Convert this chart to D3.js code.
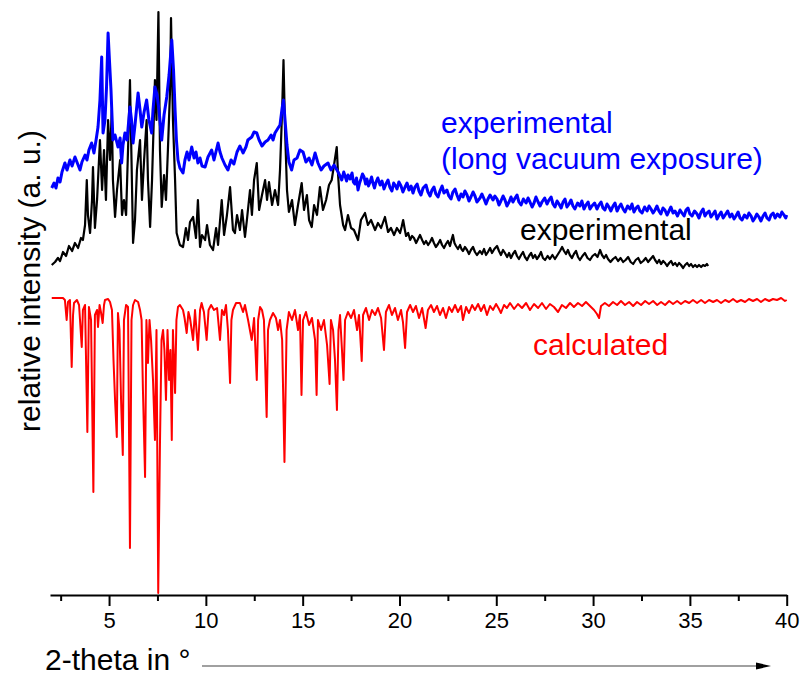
<!DOCTYPE html>
<html>
<head>
<meta charset="utf-8">
<script src="https://cdn.jsdelivr.net/npm/d3@7"></script>
<style>
  body { margin: 0; background: #fff; }
  svg { display: block; font-family: "Liberation Sans", Arial, sans-serif; }
</style>
</head>
<body>
<svg id="chart" width="803" height="677"></svg>
<script>
// --- DATA: [2-theta (deg), relative intensity (a.u.)] ---
const expVacuum = [
  [2.04,407],[2.16,412],[2.26,407],[2.36,417],[2.47,413],[2.57,423],[2.72,432],[2.83,425],[2.98,435],[3.09,429],
  [3.24,438],[3.34,433],[3.50,425],[3.60,433],[3.76,440],[3.86,435],[3.96,445],[4.10,452],[4.22,442],[4.33,455],
  [4.43,468],[4.53,495],[4.62,538],[4.69,462],[4.79,475],[4.87,508],[4.95,562],[5.02,535],[5.10,505],[5.20,455],
  [5.31,460],[5.46,448],[5.57,457],[5.65,432],[5.72,450],[5.82,462],[5.93,455],[6.08,488],[6.16,475],[6.24,452],
  [6.34,470],[6.50,502],[6.60,485],[6.69,468],[6.81,483],[6.94,495],[7.06,475],[7.20,462],[7.27,485],[7.37,508],
  [7.48,500],[7.58,485],[7.72,455],[7.84,480],[7.98,498],[8.10,520],[8.24,555],[8.33,525],[8.41,485],[8.48,455],
  [8.56,435],[8.66,427],[8.82,422],[8.92,435],[9.03,443],[9.13,435],[9.27,448],[9.39,437],[9.49,443],[9.59,432],
  [9.70,437],[9.80,429],[9.96,428],[10.11,438],[10.30,445],[10.42,435],[10.63,452],[10.73,443],[10.83,437],[10.99,430],
  [11.14,425],[11.30,435],[11.45,431],[11.61,443],[11.76,449],[11.92,442],[12.07,448],[12.17,455],[12.37,458],[12.49,463],
  [12.63,462],[12.75,455],[12.90,449],[13.06,453],[13.21,455],[13.37,460],[13.47,455],[13.57,462],[13.73,467],[13.83,470],
  [13.94,487],[14.01,495],[14.09,475],[14.19,450],[14.29,433],[14.43,425],[14.55,435],[14.71,437],[14.86,445],[15.02,443],
  [15.17,433],[15.33,437],[15.48,430],[15.64,442],[15.79,432],[15.95,425],[16.10,429],[16.31,432],[16.46,425],[16.62,430],
  [16.83,423],[17.02,415],[17.12,423],[17.19,419],[17.27,414],[17.34,420],[17.45,416],[17.55,422],[17.62,413],[17.70,411],
  [17.78,417],[17.86,405],[17.94,412],[18.01,416],[18.09,421],[18.17,418],[18.25,411],[18.32,416],[18.40,409],[18.48,413],
  [18.56,418],[18.63,412],[18.71,407],[18.79,413],[18.88,417],[19.00,410],[19.10,414],[19.20,406],[19.30,411],[19.41,415],
  [19.50,408],[19.61,404],[19.70,412],[19.80,409],[19.87,406],[19.97,413],[20.08,409],[20.18,403],[20.29,408],[20.39,412],
  [20.49,405],[20.60,409],[20.70,402],[20.80,408],[20.91,411],[21.01,404],[21.11,400],[21.22,407],[21.37,410],[21.47,403],
  [21.58,399],[21.68,405],[21.78,408],[21.88,401],[21.99,398],[22.09,404],[22.20,409],[22.30,402],[22.45,405],[22.55,399],
  [22.66,396],[22.76,403],[22.87,406],[22.97,400],[23.07,395],[23.18,401],[23.28,398],[23.38,404],[23.49,400],[23.59,394],
  [23.69,398],[23.80,403],[23.90,399],[24.00,393],[24.16,397],[24.26,401],[24.37,396],[24.47,391],[24.57,396],[24.68,400],
  [24.83,395],[24.93,399],[25.04,396],[25.14,390],[25.24,394],[25.35,399],[25.45,395],[25.55,389],[25.66,393],[25.76,398],
  [25.86,393],[25.97,397],[26.07,400],[26.17,393],[26.28,390],[26.40,396],[26.54,392],[26.64,397],[26.74,393],[26.85,388],
  [26.95,392],[27.05,398],[27.16,393],[27.26,389],[27.36,393],[27.50,397],[27.62,391],[27.72,395],[27.83,398],[27.93,391],
  [28.03,388],[28.14,394],[28.24,391],[28.35,387],[28.45,393],[28.55,396],[28.65,388],[28.76,391],[28.86,395],[28.96,389],
  [29.06,386],[29.20,392],[29.32,389],[29.42,394],[29.53,386],[29.63,390],[29.74,393],[29.84,386],[29.94,389],[30.08,392],
  [30.20,386],[30.30,390],[30.41,393],[30.51,387],[30.61,385],[30.72,391],[30.82,388],[30.92,384],[31.03,389],[31.13,392],
  [31.24,384],[31.34,388],[31.44,391],[31.55,386],[31.65,383],[31.78,389],[31.91,386],[32.01,391],[32.11,383],[32.22,387],
  [32.32,389],[32.42,384],[32.53,382],[32.66,388],[32.79,384],[32.89,389],[32.99,386],[33.10,382],[33.20,385],[33.30,389],
  [33.40,384],[33.50,381],[33.61,387],[33.71,385],[33.82,380],[33.92,384],[34.02,388],[34.13,382],[34.23,384],[34.36,379],
  [34.49,385],[34.59,382],[34.70,379],[34.80,385],[34.90,387],[35.00,381],[35.11,379],[35.24,384],[35.37,381],[35.47,377],
  [35.58,383],[35.68,386],[35.78,379],[35.88,382],[35.99,384],[36.09,378],[36.20,381],[36.30,384],[36.40,376],[36.51,380],
  [36.61,383],[36.72,377],[36.82,380],[36.95,384],[37.07,378],[37.17,381],[37.28,376],[37.38,379],[37.49,383],[37.59,377],
  [37.69,375],[37.82,380],[37.95,377],[38.05,382],[38.16,379],[38.26,374],[38.36,377],[38.46,381],[38.57,378],[38.67,374],
  [38.78,379],[38.88,382],[38.98,377],[39.09,375],[39.19,380],[39.30,382],[39.40,377],[39.52,381],[39.65,378],[39.75,383],
  [39.86,380],[39.95,377],[40.00,380]
];

const expFresh = [
  [2.04,330],[2.21,333],[2.36,337],[2.47,334],[2.62,343],[2.78,339],[2.93,349],[3.09,344],[3.24,352],[3.40,347],
  [3.55,357],[3.65,355],[3.76,370],[3.85,415],[3.91,380],[4.02,362],[4.12,395],[4.17,428],[4.27,367],[4.38,395],
  [4.53,455],[4.64,405],[4.74,445],[4.84,395],[4.95,475],[5.05,435],[5.14,485],[5.20,415],[5.31,378],[5.41,405],
  [5.57,435],[5.67,380],[5.77,395],[5.88,380],[5.98,445],[6.08,515],[6.16,435],[6.24,352],[6.34,375],[6.44,425],
  [6.60,455],[6.70,395],[6.81,435],[6.94,475],[7.01,415],[7.12,368],[7.22,415],[7.37,515],[7.45,475],[7.55,583],
  [7.63,445],[7.72,388],[7.84,420],[7.94,395],[8.04,445],[8.15,505],[8.20,577],[8.30,475],[8.41,415],[8.49,362],
  [8.66,350],[8.82,348],[8.97,367],[9.08,355],[9.18,373],[9.34,378],[9.49,357],[9.59,395],[9.70,348],[9.80,360],
  [9.96,355],[10.06,370],[10.21,350],[10.37,345],[10.53,367],[10.63,350],[10.82,395],[10.94,360],[11.09,380],[11.25,408],
  [11.40,365],[11.50,362],[11.61,380],[11.76,365],[11.87,385],[12.02,358],[12.12,375],[12.28,405],[12.38,380],[12.49,415],
  [12.63,432],[12.75,385],[12.90,400],[13.06,415],[13.16,395],[13.26,413],[13.42,390],[13.57,405],[13.73,390],[13.83,425],
  [13.94,485],[14.01,535],[14.09,465],[14.19,405],[14.29,383],[14.45,395],[14.60,370],[14.76,390],[14.95,412],[15.07,385],
  [15.22,400],[15.33,375],[15.47,368],[15.59,390],[15.74,380],[15.89,408],[16.05,385],[16.21,395],[16.36,410],[16.50,415],
  [16.62,430],[16.76,448],[16.83,420],[16.93,390],[17.09,370],[17.19,365],[17.34,380],[17.50,367],[17.65,365],[17.86,355],
  [18.01,375],[18.22,382],[18.37,370],[18.53,375],[18.74,365],[18.89,372],[19.05,367],[19.25,378],[19.41,363],[19.56,367],
  [19.72,360],[19.87,367],[20.03,362],[20.11,368],[20.19,375],[20.27,366],[20.34,359],[20.45,362],[20.55,355],[20.65,359],
  [20.75,357],[20.86,352],[20.96,356],[21.06,360],[21.17,355],[21.27,351],[21.37,354],[21.48,350],[21.58,353],[21.68,357],
  [21.78,352],[21.88,348],[21.99,351],[22.10,355],[22.20,350],[22.30,347],[22.40,351],[22.50,354],[22.61,349],[22.70,356],
  [22.76,360],[22.84,352],[22.92,349],[23.02,346],[23.13,350],[23.20,346],[23.28,344],[23.38,348],[23.49,345],[23.59,341],
  [23.69,345],[23.80,348],[23.90,343],[24.00,340],[24.16,344],[24.26,341],[24.37,346],[24.47,340],[24.57,343],[24.68,347],
  [24.78,342],[24.90,346],[25.04,349],[25.14,344],[25.24,340],[25.35,345],[25.45,342],[25.56,338],[25.66,342],[25.76,337],
  [25.86,341],[25.97,344],[26.07,339],[26.17,336],[26.28,340],[26.38,343],[26.48,338],[26.59,335],[26.69,339],[26.80,342],
  [26.90,337],[27.00,340],[27.10,336],[27.21,339],[27.31,343],[27.41,337],[27.52,335],[27.65,339],[27.77,336],[27.90,340],
  [28.03,336],[28.16,340],[28.29,344],[28.40,348],[28.50,344],[28.60,341],[28.70,345],[28.80,340],[28.91,337],[29.01,341],
  [29.12,344],[29.22,338],[29.32,335],[29.45,339],[29.58,342],[29.71,337],[29.84,335],[29.97,339],[30.10,341],[30.23,338],
  [30.36,345],[30.46,340],[30.57,337],[30.67,340],[30.77,336],[30.90,333],[31.03,336],[31.16,338],[31.29,334],[31.42,337],
  [31.55,333],[31.68,335],[31.81,338],[31.94,333],[32.07,331],[32.20,335],[32.33,337],[32.46,332],[32.59,334],[32.72,337],
  [32.84,333],[32.97,336],[33.10,339],[33.20,335],[33.31,332],[33.41,335],[33.51,331],[33.62,334],[33.72,332],[33.82,329],
  [33.93,332],[34.03,334],[34.13,330],[34.24,332],[34.34,329],[34.44,332],[34.54,330],[34.65,327],[34.75,330],[34.86,332],
  [34.96,329],[35.06,331],[35.16,328],[35.27,330],[35.37,328],[35.47,330],[35.58,328],[35.68,330],[35.78,329],[35.88,331],
  [35.94,329]
];

// calculated pattern: intensity counted downward from its own baseline
const calcBase = 298;
const calculated = [
  [2.04,1],[2.31,1],[2.62,1],[2.72,3],[2.81,23],[2.88,5],[2.98,3],[3.07,70],[3.14,18],[3.19,6],
  [3.34,3],[3.45,8],[3.59,50],[3.65,13],[3.76,8],[3.88,135],[3.96,10],[4.07,23],[4.19,195],[4.27,18],
  [4.38,13],[4.43,30],[4.51,8],[4.58,15],[4.67,26],[4.74,8],[4.79,3],[4.95,2],[5.05,5],[5.15,13],
  [5.23,63],[5.31,103],[5.40,140],[5.46,16],[5.54,33],[5.62,103],[5.71,158],[5.77,23],[5.88,8],[5.98,10],
  [6.08,251],[6.16,23],[6.24,8],[6.34,3],[6.50,5],[6.60,13],[6.68,23],[6.75,93],[6.86,180],[6.93,23],
  [7.01,66],[7.09,23],[7.17,43],[7.27,83],[7.37,143],[7.45,33],[7.54,296],[7.63,146],[7.71,43],[7.79,33],
  [7.86,53],[7.94,103],[8.02,33],[8.10,83],[8.17,53],[8.24,143],[8.30,33],[8.41,96],[8.48,23],[8.56,10],
  [8.66,8],[8.82,13],[8.90,21],[9.01,36],[9.10,15],[9.18,21],[9.34,43],[9.44,13],[9.59,53],[9.70,13],
  [9.78,6],[9.90,15],[10.04,43],[10.14,13],[10.27,8],[10.42,13],[10.58,11],[10.73,43],[10.83,13],[10.94,18],
  [11.04,8],[11.14,33],[11.25,86],[11.32,23],[11.40,13],[11.56,6],[11.76,6],[11.92,15],[12.02,8],[12.18,23],
  [12.37,43],[12.49,21],[12.63,83],[12.70,23],[12.80,10],[12.90,13],[13.00,23],[13.14,120],[13.21,33],[13.31,23],
  [13.47,16],[13.62,21],[13.73,33],[13.83,23],[13.94,43],[14.06,165],[14.17,33],[14.29,15],[14.45,23],[14.60,13],
  [14.76,33],[14.86,18],[14.94,98],[15.02,23],[15.17,15],[15.33,28],[15.48,21],[15.64,43],[15.72,98],[15.79,23],
  [15.95,33],[16.10,23],[16.26,48],[16.39,87],[16.46,23],[16.57,33],[16.67,63],[16.77,113],[16.85,33],[16.93,18],
  [17.03,53],[17.11,83],[17.19,23],[17.34,15],[17.50,21],[17.65,13],[17.81,33],[17.91,18],[18.05,64],[18.12,18],
  [18.27,11],[18.43,23],[18.58,13],[18.74,18],[18.89,11],[19.05,21],[19.20,53],[19.30,15],[19.46,8],[19.61,18],
  [19.77,11],[19.92,23],[20.08,13],[20.18,25],[20.29,51],[20.39,15],[20.55,8],[20.70,15],[20.85,9],[21.01,21],
  [21.17,11],[21.35,31],[21.47,13],[21.63,8],[21.78,15],[21.94,9],[22.09,18],[22.25,11],[22.40,21],[22.56,10],
  [22.71,15],[22.87,8],[23.02,15],[23.18,9],[23.28,23],[23.44,10],[23.59,16],[23.75,8],[23.90,13],[24.06,7],
  [24.21,14],[24.37,8],[24.52,18],[24.68,9],[24.83,13],[24.99,7],[25.14,12],[25.24,16],[25.40,8],[25.55,11],
  [25.71,6],[25.92,12],[26.12,7],[26.33,11],[26.54,6],[26.74,13],[26.95,7],[27.16,11],[27.36,6],[27.57,12],
  [27.77,7],[27.98,10],[28.19,15],[28.39,8],[28.60,11],[28.81,6],[29.01,10],[29.22,6],[29.43,9],[29.63,5],
  [29.84,9],[30.05,13],[30.20,17],[30.31,21],[30.41,9],[30.61,6],[30.82,9],[31.03,5],[31.24,8],[31.44,4],
  [31.65,8],[31.86,5],[32.07,9],[32.27,5],[32.48,8],[32.69,4],[32.89,7],[33.10,4],[33.31,8],[33.51,5],
  [33.72,8],[33.93,4],[34.13,7],[34.34,4],[34.54,7],[34.75,4],[34.96,6],[35.16,3],[35.37,6],[35.58,3],
  [35.78,6],[35.99,3],[36.20,5],[36.40,3],[36.61,6],[36.82,3],[37.02,5],[37.23,2],[37.43,5],[37.64,3],
  [37.85,5],[38.05,2],[38.26,4],[38.47,2],[38.67,5],[38.88,2],[39.09,4],[39.29,2],[39.50,3],[39.71,1],
  [39.91,4],[40.00,3]
];

const majorTicks = [5, 10, 15, 20, 25, 30, 35, 40];
const minorTicks = [2.5, 7.5, 12.5, 17.5, 22.5, 27.5, 32.5, 37.5];

// --- SETUP ---
const svg = d3.select("#chart");
const x = d3.scaleLinear().domain([1.95, 40]).range([50, 786.7]);
const y = d3.scaleLinear().domain([0, 595]).range([595, 0]);
const line = d3.line().x(d => x(d[0])).y(d => y(d[1]));
const calcLine = d3.line().x(d => x(d[0])).y(d => y(calcBase - d[1]));

// --- CURVES (red, black, then blue on top) ---
svg.append("path").datum(calculated).attr("d", calcLine)
    .attr("fill", "none").attr("stroke", "#ff0000").attr("stroke-width", 2).attr("stroke-linejoin", "round");
svg.append("path").datum(expFresh).attr("d", line)
    .attr("fill", "none").attr("stroke", "#000").attr("stroke-width", 2.2).attr("stroke-linejoin", "round");
svg.append("path").datum(expVacuum).attr("d", line)
    .attr("fill", "none").attr("stroke", "#0000ff").attr("stroke-width", 3).attr("stroke-linejoin", "round");

// --- X AXIS ---
const axisG = svg.append("g").attr("transform", "translate(0,595)");
axisG.call(d3.axisBottom(x).tickValues(majorTicks).tickSize(11).tickSizeOuter(0).tickFormat(d3.format("d")));
axisG.append("g").call(d3.axisBottom(x).tickValues(minorTicks).tickSize(6).tickSizeOuter(0).tickFormat(""))
    .select(".domain").remove();
axisG.selectAll(".domain").attr("stroke", "#000").attr("stroke-width", 2);
axisG.selectAll(".tick line").attr("stroke", "#000").attr("stroke-width", 2);
axisG.selectAll(".tick text").attr("fill", "#000").style("font-size", "22px").attr("y", 17).attr("dy", "0.71em");

// axis title + arrow
svg.append("text").attr("x", 45).attr("y", 670).style("font-size", "30px").attr("fill", "#000").text("2-theta in °");
svg.append("line").attr("x1", 202).attr("x2", 758).attr("y1", 666).attr("y2", 666)
    .attr("stroke", "#808080").attr("stroke-width", 1.5);
svg.append("path").attr("d", "M756,662.5 L771,666 L756,669.5 Z").attr("fill", "#000");

// --- Y TITLE ---
svg.append("text").attr("transform", "translate(40,281) rotate(-90)").attr("text-anchor", "middle")
    .style("font-size", "30px").attr("fill", "#000").text("relative intensity (a. u.)");

// --- CURVE LABELS ---
const labels = [
    { text: "experimental", x: 441, y: 133, color: "#0000ff" },
    { text: "(long vacuum exposure)", x: 441, y: 169, color: "#0000ff" },
    { text: "experimental", x: 520, y: 240, color: "#000" },
    { text: "calculated", x: 533, y: 355, color: "#ff0000" }
];
svg.selectAll(".curve-label").data(labels).join("text").attr("class", "curve-label")
    .attr("x", d => d.x).attr("y", d => d.y).attr("fill", d => d.color)
    .style("font-size", "30px").text(d => d.text);
</script>
</body>
</html>
